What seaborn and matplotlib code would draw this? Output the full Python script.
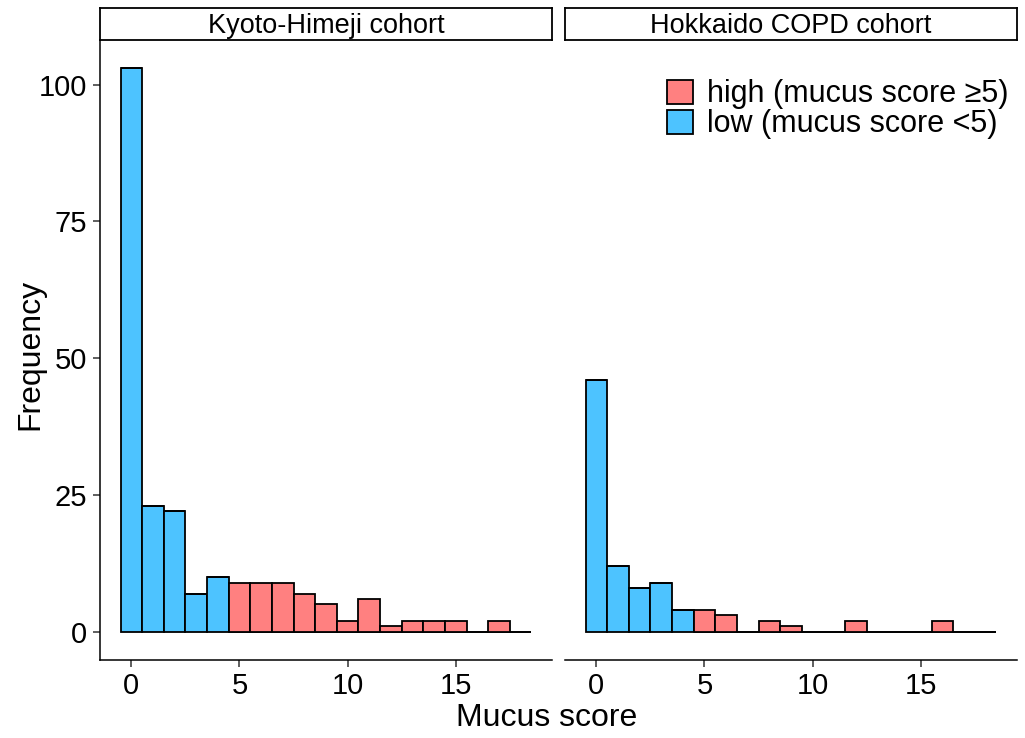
import numpy as np
import pandas as pd
import matplotlib
matplotlib.use("Agg")
import matplotlib.pyplot as plt
from matplotlib.patches import Patch
import seaborn as sns

# Mucus score bins (integer scores) and patient counts per cohort
scores = list(range(0, 19))
kyoto_counts = [103, 23, 22, 7, 10, 9, 9, 9, 7, 5, 2, 6, 1, 2, 2, 2, 0, 2, 0]
hokkaido_counts = [46, 12, 8, 9, 4, 4, 3, 0, 2, 1, 0, 0, 2, 0, 0, 0, 2, 0, 0]
cohorts = ["Kyoto-Himeji cohort", "Hokkaido COPD cohort"]
group_labels = ["high (mucus score \u22655)", "low (mucus score <5)"]
threshold = 5
x_ticks = [0, 5, 10, 15]
y_ticks = [0, 25, 50, 75, 100]

colors = {group_labels[0]: "#FF8080", group_labels[1]: "#4DC3FF"}

# Expand counts into one row per patient
rows = []
for cohort, counts in zip(cohorts, [kyoto_counts, hokkaido_counts]):
    for s, c in zip(scores, counts):
        grp = group_labels[0] if s >= threshold else group_labels[1]
        rows += [(cohort, s, grp)] * c
df = pd.DataFrame(rows, columns=["cohort", "score", "group"])

sns.set_theme(style="white")
plt.rcParams["font.family"] = ["Liberation Sans", "DejaVu Sans"]
plt.rcParams["text.color"] = "black"

fig = plt.figure(figsize=(10.25, 7.38), dpi=100)
W, H = 1025, 738
ax_bottom, ax_top = 660, 40
strip_top = 8
panels = [(100, 552), (565, 1017)]

ymax = max(kyoto_counts + hokkaido_counts)
ylim = (-0.05 * ymax, 1.05 * ymax)
xlim = (-0.5 - 0.05 * 19, 18.5 + 0.05 * 19)

axes = []
for i, ((x0, x1), cohort) in enumerate(zip(panels, cohorts)):
    ax = fig.add_axes([x0 / W, 1 - ax_bottom / H, (x1 - x0) / W, (ax_bottom - ax_top) / H])
    sub = df[df["cohort"] == cohort]
    sns.histplot(
        data=sub, x="score", hue="group", hue_order=group_labels,
        palette=colors, binwidth=1, binrange=(-0.5, 18.5),
        multiple="stack", alpha=1, edgecolor="black", linewidth=1.3,
        legend=False, ax=ax,
    )
    ax.set_xlim(xlim)
    ax.set_ylim(ylim)
    ax.set_xticks(x_ticks)
    ax.set_xlabel("")
    ax.set_ylabel("")
    ax.tick_params(axis="both", which="both", length=5, width=1.1,
                   color="#333333", labelsize=21, labelcolor="black",
                   bottom=True, left=(i == 0), pad=4)
    for side in ["top", "right"]:
        ax.spines[side].set_visible(False)
    ax.spines["bottom"].set_color("black")
    ax.spines["bottom"].set_linewidth(1.1)
    if i == 0:
        ax.set_yticks(y_ticks)
        ax.spines["left"].set_color("black")
        ax.spines["left"].set_linewidth(1.1)
    else:
        ax.set_yticks([])
        ax.spines["left"].set_visible(False)
    ax.grid(False)

    # facet strip
    sax = fig.add_axes([x0 / W, 1 - ax_top / H, (x1 - x0) / W, (ax_top - strip_top) / H])
    sax.set_xticks([])
    sax.set_yticks([])
    sax.set_facecolor("white")
    for sp in sax.spines.values():
        sp.set_color("black")
        sp.set_linewidth(1.3)
        sp.set_visible(True)
    sax.text(0.5, 0.45, cohort, ha="center", va="center", fontsize=19.5, color="black",
             transform=sax.transAxes)
    axes.append(ax)

handles = [Patch(facecolor=colors[g], edgecolor="black", linewidth=1.3, label=g) for g in group_labels]
axes[1].legend(handles=handles, loc="upper right", bbox_to_anchor=(1.021, 0.966),
               frameon=False, fontsize=22, handlelength=0.85, handleheight=0.85,
               handletextpad=0.45, labelspacing=0.0, borderaxespad=0.2)

fig.text(30 / W, 1 - 354 / H, "Frequency", rotation=90, ha="center", va="center",
         fontsize=23, color="black")
fig.text(547 / W, 1 - 718 / H, "Mucus score", ha="center", va="center",
         fontsize=23, color="black")

fig.savefig("out.png", dpi=100, facecolor="white")
